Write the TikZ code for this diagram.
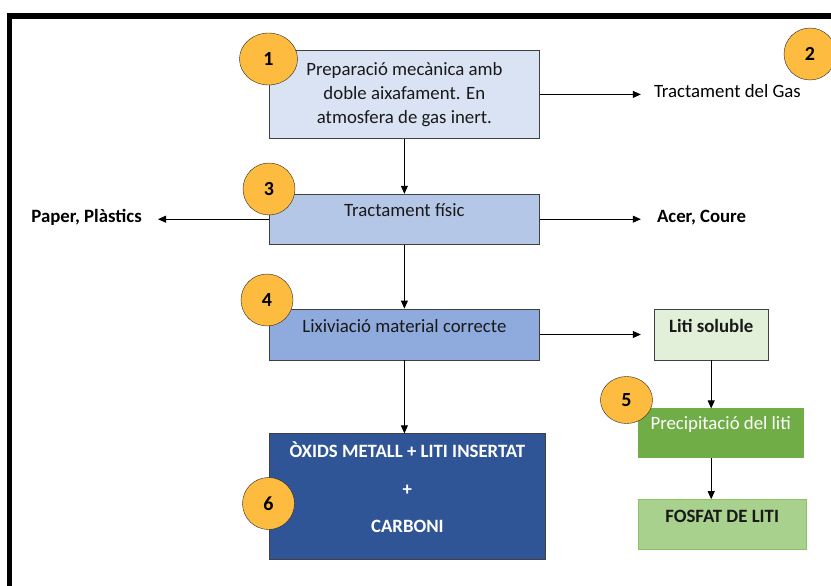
\documentclass[tikz,border=0pt]{standalone}
\usepackage{fontspec}
\setmainfont{Carlito}
\usetikzlibrary{positioning}
\usetikzlibrary{shapes.geometric}
\usetikzlibrary{arrows.meta,calc}

\definecolor{markergold}{HTML}{FDBB40}
\definecolor{prepblue}{HTML}{DAE3F3}
\definecolor{tractblue}{HTML}{B4C7E7}
\definecolor{lixblue}{HTML}{8FAADC}
\definecolor{oxblue}{HTML}{2F5597}
\definecolor{litigreen}{HTML}{E2F0D9}
\definecolor{precgreen}{HTML}{70AD47}
\definecolor{fosgreen}{HTML}{A9D18E}
\definecolor{fosedge}{HTML}{8CC168}

\begin{document}
\begin{tikzpicture}[x=1pt,y=-1pt,
    >={Triangle[length=8pt,width=7pt]},
    basic/.style={draw=black!75,line width=0.8pt,inner sep=0pt,text=black!90,
        font=\fontsize{18.8}{24}\selectfont},
    stage/.style={basic,text height=22pt,text depth=28pt},
    marker/.style={ellipse,draw=black!85,fill=markergold,minimum width=52pt,
        minimum height=52pt,inner sep=0pt,font=\fontsize{20}{20}\selectfont\bfseries},
    outlabel/.style={inner sep=0pt,font=\fontsize{18.8}{24}\selectfont},
    link/.style={->,line width=0.8pt},
]
    \useasboundingbox (0,0) rectangle (831,586);
    % frame of the page
    \draw[line width=5.6pt] (9.5,586) -- (9.5,16) -- (831,16);

    % main column
    \node[basic,fill=prepblue,align=center,minimum width=270pt,minimum height=88pt,
        anchor=north west] (prep) at (269,50)
        {Preparació mecànica amb\\doble aixafament. En\\atmosfera de gas inert.};
    \node[stage,fill=tractblue,minimum width=270pt,below=55pt of prep] (tract) {Tractament físic};
    \node[stage,fill=lixblue,minimum width=270pt,text height=23pt,below=64pt of tract] (lix)
        {Lixiviació material correcte};
    \node[basic,fill=oxblue,text=white,font=\fontsize{18.8}{24}\selectfont\bfseries,
        align=center,minimum width=276pt,text height=99pt,text depth=27pt,
        below=73pt of lix,xshift=3pt] (ox)
        {ÒXIDS METALL + LITI INSERTAT\\[13.5pt]+\\[13.5pt]CARBONI};

    % right column
    \node[stage,fill=litigreen,minimum width=114pt,text height=23pt,
        font=\fontsize{18.8}{24}\selectfont\bfseries,right=114pt of lix] (liti) {Liti soluble};
    \node[stage,draw=precgreen,fill=precgreen,text=white,minimum width=165pt,
        text height=21pt,below=48pt of liti,xshift=9.5pt] (prec) {Precipitació del liti};
    \node[stage,draw=fosedge,fill=fosgreen,minimum width=168pt,text height=23pt,text depth=27pt,
        font=\fontsize{18.8}{24}\selectfont\bfseries,below=41pt of prec,xshift=1.5pt] (fos)
        {FOSFAT DE LITI};

    % outputs
    \node[outlabel,right=114pt of prep,yshift=3pt] (gas) {Tractament del Gas};
    \node[outlabel,font=\fontsize{18.8}{24}\selectfont\bfseries,right=117pt of tract,yshift=2pt] (metals)
        {Acer, Coure};
    \node[outlabel,font=\fontsize{18.8}{24}\selectfont\bfseries,left=127pt of tract,yshift=1.5pt] (waste)
        {Paper, Plàstics};

    % arrows
    \draw[link] (prep) -- (tract);
    \draw[link] (tract) -- (lix);
    \draw[link] (lix.south) -- (lix.south |- ox.north);
    \draw[link,shorten >=13pt] (prep.east) -- (prep.east -| gas.west);
    \draw[link,shorten >=16pt] (tract.east) -- (tract.east -| metals.west);
    \draw[link,shorten >=16pt] (tract.west) -- (tract.west -| waste.east);
    \draw[link,shorten >=13pt] (lix.east) -- (liti.west);
    \draw[link] (liti.south) -- (liti.south |- prec.north);
    \draw[link] (liti.south |- prec.south) -- (liti.south |- fos.north);

    % step numbers
    \node[marker,minimum width=58pt] (m1) at (268.5,59) {1};
    \node[marker] (m2) at (810,54) {2};
    \node[marker] (m3) at (269,189) {3};
    \node[marker] (m4) at (267,300) {4};
    \node[marker,minimum height=47pt] (m5) at (626.5,400) {5};
    \node[marker] (m6) at (268.5,503.5) {6};
\end{tikzpicture}
\end{document}
